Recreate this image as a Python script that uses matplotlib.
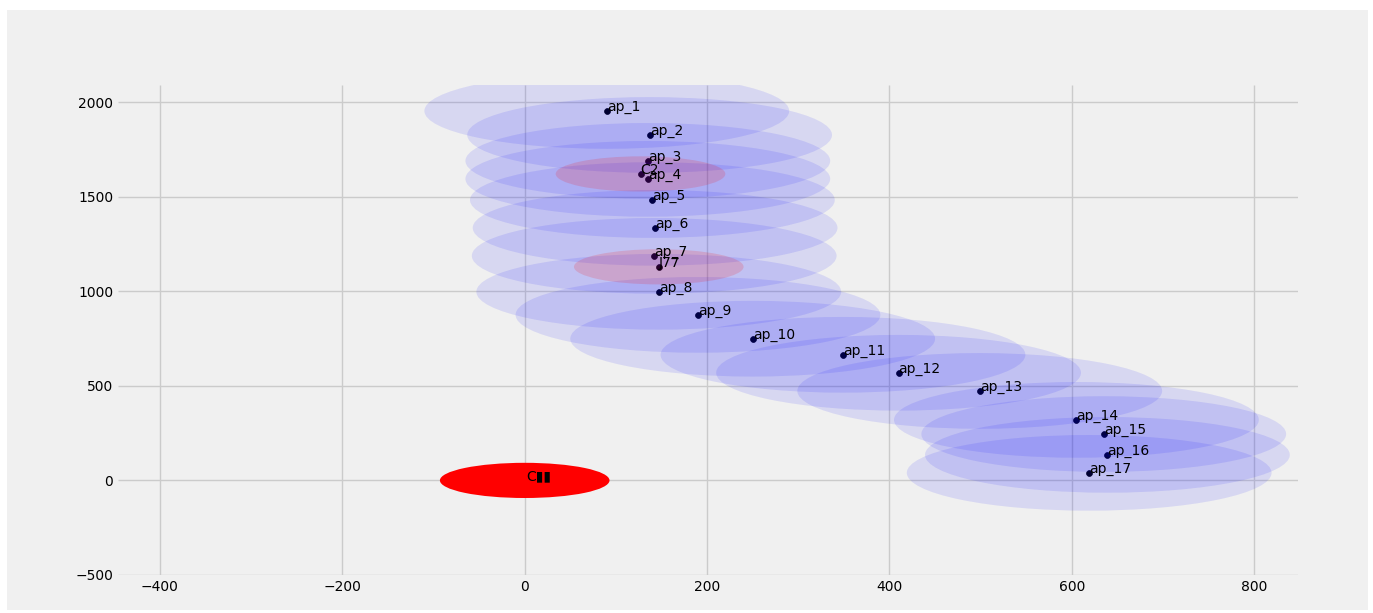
import matplotlib
matplotlib.use("Agg")
import matplotlib.pyplot as plt
from matplotlib.patches import Circle, Rectangle

# access points
ap_names = ["ap_%d" % i for i in range(1, 18)]
ap_x = [90, 137, 135, 135, 140, 143, 142, 147, 190, 250, 349, 410, 499, 605, 635, 639, 619]
ap_y = [1953, 1826, 1689, 1594, 1482, 1335, 1187, 997, 875, 749, 664, 569, 473, 320, 245, 135, 40]
ap_radius = 200

# estimated targets
tag_names = ["C2", "J77"]
tag_x = [127, 147]
tag_y = [1620, 1129]
tag_radius = 93

# origin
origin_name = "C\u25ae\u25ae"
origin_x = 0
origin_y = 0
origin_radius = 93

plt.style.use("fivethirtyeight")

fig = plt.figure(figsize=(13.73, 6.13), dpi=100, facecolor="white")
# grey canvas with a thin white border
fig.patches.append(Rectangle((7 / 1373, 3 / 613), 1361 / 1373, 600 / 613,
                             transform=fig.transFigure, facecolor="#f0f0f0",
                             edgecolor="none", zorder=-10))
ax = fig.add_axes([118 / 1373, 38 / 613, 1180 / 1373, 490 / 613])
ax.set_facecolor("#f0f0f0")

ax.scatter(ap_x, ap_y, s=18, color="black", zorder=2)
ax.scatter(tag_x, tag_y, s=18, color="black", zorder=2)
ax.scatter([origin_x], [origin_y], s=18, color="black", zorder=2)

for x, y in zip(ap_x, ap_y):
    ax.add_patch(Circle((x, y), ap_radius, color="blue", alpha=0.1, lw=0, zorder=3))
for x, y in zip(tag_x, tag_y):
    ax.add_patch(Circle((x, y), tag_radius, color="red", alpha=0.15, lw=0, zorder=3))
ax.add_patch(Circle((origin_x, origin_y), origin_radius, color="red", lw=0, zorder=3))

for name, x, y in zip(ap_names, ap_x, ap_y):
    ax.text(x, y, name, fontsize=10, color="black", zorder=5)
for name, x, y in zip(tag_names, tag_x, tag_y):
    ax.text(x, y, name, fontsize=10, color="black", zorder=5)
ax.text(origin_x + 2, origin_y, origin_name, fontsize=10, color="black", zorder=5)

ax.set_xlim(-446, 848)
ax.set_ylim(-500, 2090)
ax.set_xticks([-400, -200, 0, 200, 400, 600, 800])
ax.set_yticks([-500, 0, 500, 1000, 1500, 2000])
ax.tick_params(labelsize=10, length=0)
ax.grid(True, color="#cbcbcb", lw=1)
for s in ax.spines.values():
    s.set_visible(False)

fig.savefig("out.png", dpi=100, facecolor="white")
